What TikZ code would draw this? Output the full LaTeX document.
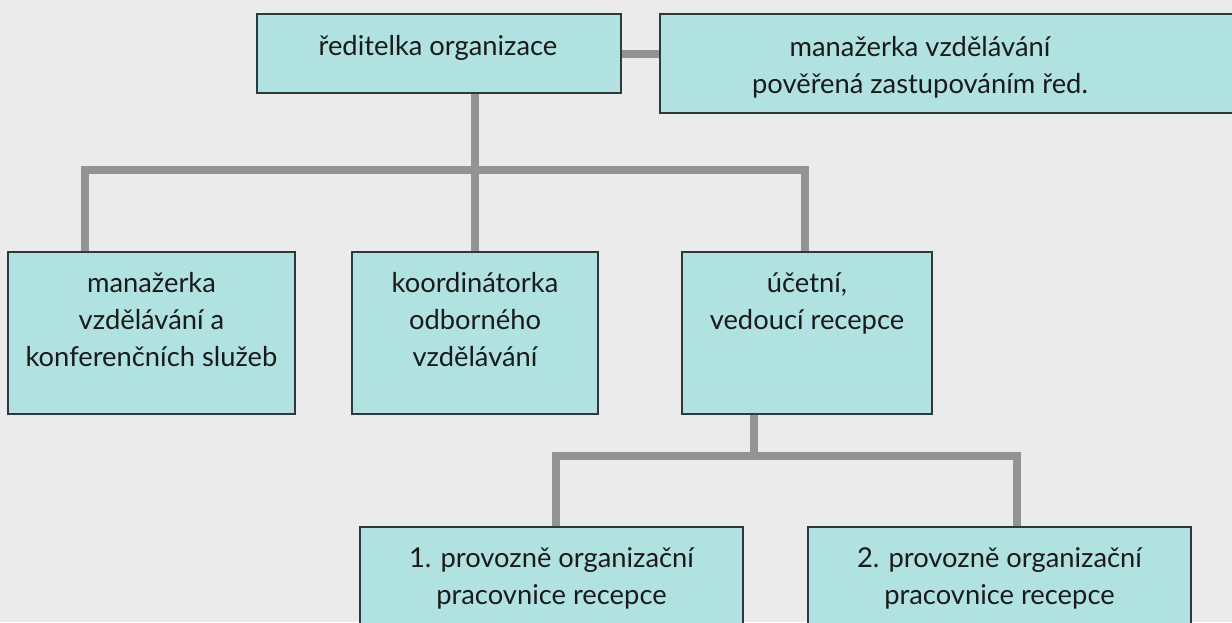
\documentclass[tikz,border=0pt]{standalone}
\usepackage{fontspec}
\setmainfont{Lato}
\usetikzlibrary{calc}
\definecolor{bgc}{HTML}{EBEBEB}
\definecolor{boxfill}{HTML}{B0E2E2}
\definecolor{boxline}{HTML}{2E3A3A}
\definecolor{connc}{HTML}{939393}
\definecolor{txtc}{HTML}{1A1A1A}
\begin{document}
\begin{tikzpicture}[x=0.75pt,y=-0.75pt,
  orgbox/.style={draw=boxline, fill=boxfill, line width=1pt, rectangle, inner sep=0pt},
  lbl/.style={font=\fontsize{20.5}{27.75}\selectfont, align=center, anchor=base, inner sep=0pt, text=txtc},
  link/.style={draw=connc, line width=6pt, line join=miter, line cap=butt}]
\path[use as bounding box, fill=bgc] (0,0) rectangle (1232,622);
\begin{scope}
\clip (0,0) rectangle (1232,622);
% boxes
\node[orgbox, minimum width=273pt, minimum height=59.25pt] (dir) at (439,53.5) {};
\node[orgbox, minimum width=442.5pt, minimum height=74.25pt] (dep) at (955,63.5) {};
\node[orgbox, minimum width=215.25pt, minimum height=121.5pt] (left) at (151.5,333) {};
\node[orgbox, minimum width=184.5pt, minimum height=121.5pt] (mid) at (475,333) {};
\node[orgbox, minimum width=187.5pt, minimum height=121.5pt] (ucet) at (807,333) {};
\node[orgbox, minimum width=287.25pt, minimum height=129.75pt] (p1) at (551.5,613.5) {};
\node[orgbox, minimum width=287.25pt, minimum height=129.75pt] (p2) at (999.5,613.5) {};
% junctions
\coordinate (b1) at (85,170);
\coordinate (b2) at (805,170);
\coordinate (c0) at (754,456);
\coordinate (c1) at (556,456);
\coordinate (c2) at (1017,456);
% connectors
\draw[link] (dir.east) -- (dir.east -| dep.west);
\draw[link] (dir.south -| mid.north) -- (mid.north);
\draw[link] (left.north -| b1) -- (b1) -- (b2) -- (ucet.north -| b2);
\draw[link] (ucet.south -| c0) -- (c0);
\draw[link] (p1.north -| c1) -- (c1) -- (c2) -- (p2.north -| c2);
% texts (anchor = baseline of last line)
\node[lbl] (tdir) at (438,55) {ředitelka organizace};
\node[lbl] (tdep) at (920,93) {manažerka vzdělávání\\pověřená zastupováním řed.};
\node[lbl] (tleft) at (151.5,366.5) {manažerka\\vzdělávání a\\konferenčních služeb};
\node[lbl] (tmid) at (475,366.5) {koordinátorka\\odborného\\vzdělávání};
\node[lbl] (tucet) at (807,329.5) {účetní,\\vedoucí recepce};
\node[lbl] (tp1) at (551.5,604) {1. provozně organizační\\pracovnice recepce};
\node[lbl] (tp2) at (999.5,604) {2. provozně organizační\\pracovnice recepce};
\end{scope}
\end{tikzpicture}
\end{document}
